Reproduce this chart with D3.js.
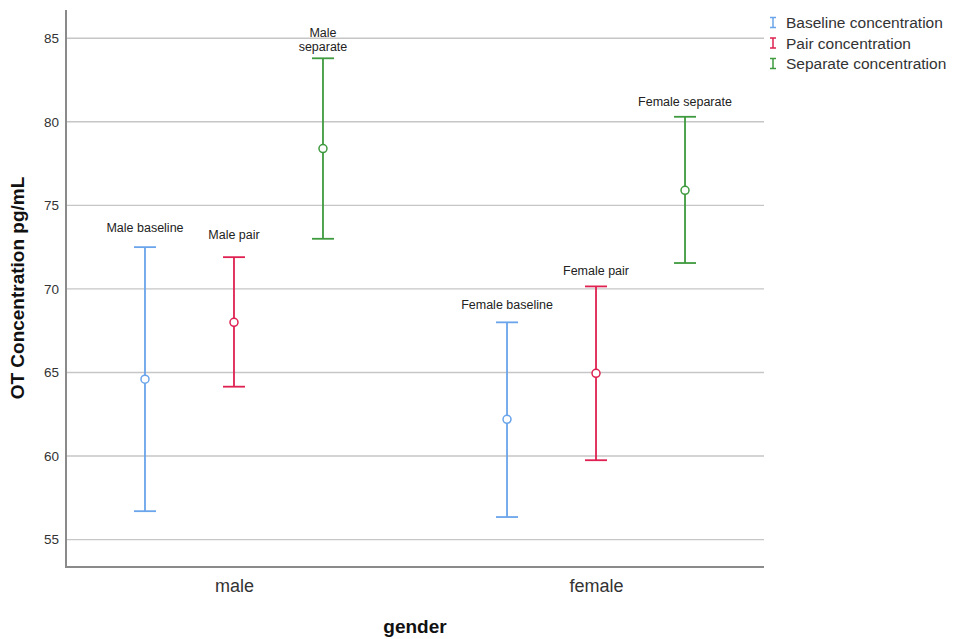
<!DOCTYPE html>
<html><head><meta charset="utf-8">
<script src="https://cdn.jsdelivr.net/npm/d3@7"></script>
<style>body{margin:0;background:#fff}svg{display:block;font-family:"Liberation Sans",Arial,sans-serif}</style>
</head><body><svg id="c" width="953" height="639"></svg>
<script>
const genders = ["male", "female"];
const series = ["Baseline concentration", "Pair concentration", "Separate concentration"];
const seriesColors = ["#6aa4ea", "#de2150", "#3e9a3e"];
const means = [[64.6, 68.0, 78.4], [62.2, 64.95, 75.9]];
const lower = [[56.7, 64.15, 73.0], [56.35, 59.75, 71.55]];
const upper = [[72.5, 71.9, 83.8], [68.0, 70.15, 80.3]];
const labels = [["Male baseline", "Male pair", "Male\nseparate"], ["Female baseline", "Female pair", "Female separate"]];
const labelAt = [[73.65, 73.2, 85.3], [69.05, 71.1, 81.2]];
const yTicks = [55, 60, 65, 70, 75, 80, 85];

const svg = d3.select("#c");
const L = 66, R = 764, T = 10, B = 567;
const y = d3.scaleLinear().domain([53.36, 86.69]).range([B, T]);
const x = d3.scalePoint().domain(genders).range([L, R]).padding(0.464);
const off = d3.scalePoint().domain(series).range([-89, 89]);

// gridlines
svg.append("g").selectAll("line").data(yTicks).join("line")
  .attr("x1", L).attr("x2", R).attr("y1", d => y(d)).attr("y2", d => y(d))
  .attr("stroke", "#c6c6c6").attr("stroke-width", 1.4);

// y axis
const ya = svg.append("g").attr("transform", `translate(${L},0)`)
  .call(d3.axisLeft(y).tickValues(yTicks).tickSize(0).tickPadding(7));
ya.select(".domain").remove();
ya.selectAll("text").attr("font-size", 13.5).attr("fill", "#333").attr("font-family", "Liberation Sans, Arial, sans-serif");

// x axis
const xa = svg.append("g").attr("transform", `translate(0,${B})`)
  .call(d3.axisBottom(x).tickSize(0).tickPadding(12));
xa.select(".domain").remove();
xa.selectAll("text").attr("font-size", 18).attr("fill", "#333").attr("font-family", "Liberation Sans, Arial, sans-serif");

// axis lines
svg.append("line").attr("x1", L).attr("x2", L).attr("y1", T).attr("y2", B).attr("stroke", "#8a8a8a").attr("stroke-width", 2);
svg.append("line").attr("x1", L - 1).attr("x2", R).attr("y1", B).attr("y2", B).attr("stroke", "#8a8a8a").attr("stroke-width", 2);

// titles
svg.append("text").attr("x", 415).attr("y", 633).attr("text-anchor", "middle")
  .attr("font-size", 19).attr("font-weight", "bold").attr("fill", "#111").text("gender");
svg.append("text").attr("transform", "translate(24,288) rotate(-90)").attr("text-anchor", "middle")
  .attr("font-size", 19).attr("font-weight", "bold").attr("fill", "#111").text("OT Concentration pg/mL");

// error bars
const pts = [];
genders.forEach((g, gi) => series.forEach((s, si) => pts.push({
  g, s, si, m: means[gi][si], lo: lower[gi][si], hi: upper[gi][si], lab: labels[gi][si], la: labelAt[gi][si]
})));
const cx = d => x(d.g) + off(d.s);
const eb = svg.append("g").selectAll("g").data(pts).join("g")
  .attr("stroke", d => seriesColors[d.si]).attr("stroke-width", 1.8).attr("fill", "none");
eb.append("line").attr("x1", cx).attr("x2", cx).attr("y1", d => y(d.hi)).attr("y2", d => y(d.lo));
eb.append("line").attr("x1", d => cx(d) - 11).attr("x2", d => cx(d) + 11).attr("y1", d => y(d.hi)).attr("y2", d => y(d.hi));
eb.append("line").attr("x1", d => cx(d) - 11).attr("x2", d => cx(d) + 11).attr("y1", d => y(d.lo)).attr("y2", d => y(d.lo));
eb.append("circle").attr("cx", cx).attr("cy", d => y(d.m)).attr("r", 4).attr("fill", "#fff").attr("stroke-width", 1.5);

// labels
svg.append("g").selectAll("text").data(pts).join("text")
  .attr("x", cx).attr("y", d => y(d.la) + 4).attr("text-anchor", "middle")
  .attr("font-size", 12.5).attr("fill", "#222")
  .each(function (d) {
    const lines = d.lab.split("\n");
    const t = d3.select(this);
    lines.forEach((ln, i) => t.append("tspan").attr("x", cx(d)).attr("dy", i === 0 ? 0 : 13.4).text(ln));
  });

// legend
const lg = svg.append("g").selectAll("g").data(series).join("g")
  .attr("transform", (d, i) => `translate(773,${22.5 + i * 20.5})`);
lg.append("line").attr("x1", 0).attr("x2", 0).attr("y1", -5).attr("y2", 5).attr("stroke", (d, i) => seriesColors[i]).attr("stroke-width", 1.5);
lg.append("line").attr("x1", -3).attr("x2", 3).attr("y1", -5).attr("y2", -5).attr("stroke", (d, i) => seriesColors[i]).attr("stroke-width", 1.5);
lg.append("line").attr("x1", -3).attr("x2", 3).attr("y1", 5).attr("y2", 5).attr("stroke", (d, i) => seriesColors[i]).attr("stroke-width", 1.5);
lg.append("text").attr("x", 13).attr("y", 5.5).attr("font-size", 15.5).attr("fill", "#333").text(d => d);
</script></body></html>
